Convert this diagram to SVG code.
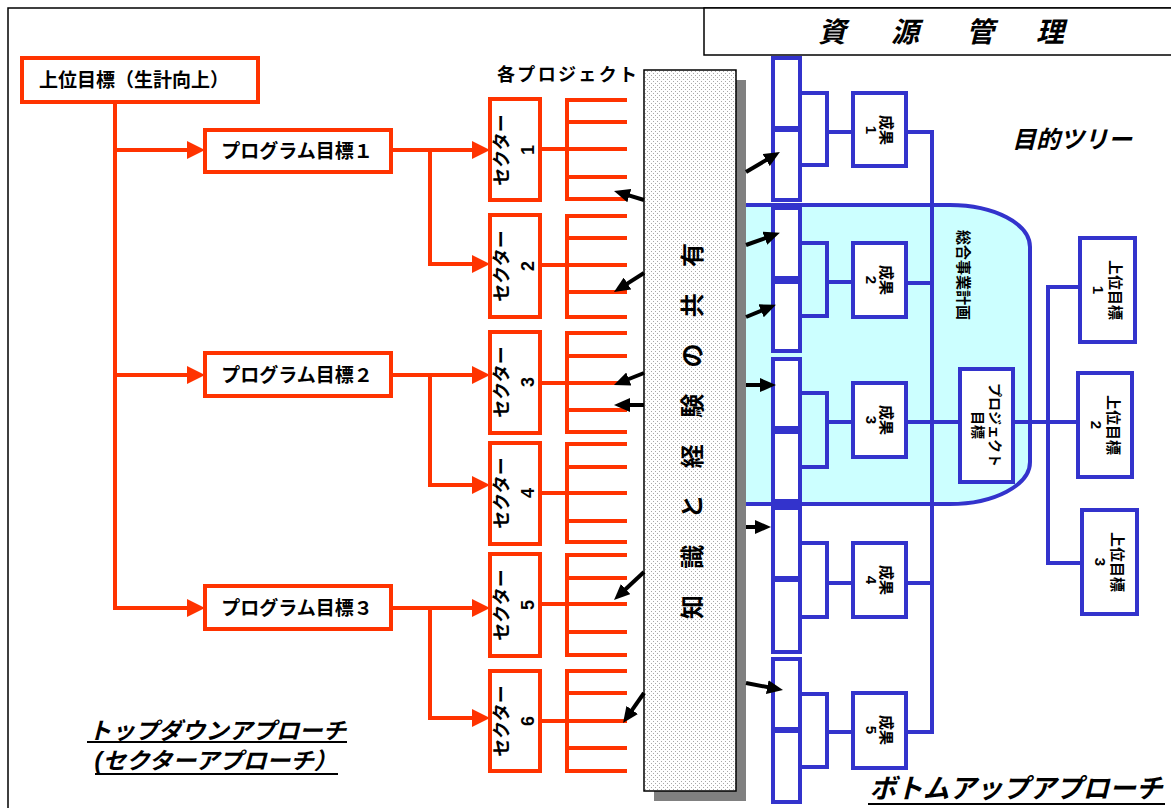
<svg xmlns="http://www.w3.org/2000/svg" width="1171" height="808" viewBox="0 0 1171 808">
<style>
text{font-family:"Liberation Sans","Noto Sans CJK JP",sans-serif;font-weight:bold;fill:#000;dominant-baseline:central;text-anchor:middle}
.ob{fill:#fff;stroke:#FF3300;stroke-width:4}
.ol{fill:none;stroke:#FF3300;stroke-width:4;stroke-linejoin:miter;stroke-linecap:square}
.oa{fill:none;stroke:#FF3300;stroke-width:4;marker-end:url(#oarr)}
.bb{fill:#fff;stroke:#3333CC;stroke-width:4}
.bl{fill:none;stroke:#3333CC;stroke-width:4;stroke-linecap:square}
.ka{fill:none;stroke:#000;stroke-width:4;marker-end:url(#karr)}
.it{font-style:italic}
</style>
<defs>
<marker id="oarr" viewBox="0 0 18 18" markerWidth="18" markerHeight="18" refX="0" refY="9" markerUnits="userSpaceOnUse" orient="auto"><path d="M0,0 L18,9 L0,18 Z" fill="#FF3300"/></marker>
<marker id="karr" viewBox="0 0 16 14" markerWidth="16" markerHeight="14" refX="4" refY="7" markerUnits="userSpaceOnUse" orient="auto"><path d="M0,0 L16,7 L0,14 Z" fill="#000"/></marker>
<pattern id="dots" patternUnits="userSpaceOnUse" width="4" height="4"><rect width="4" height="4" fill="#fff"/><rect x="1" y="1" width="1" height="1" fill="#a8a8a8"/><rect x="3" y="3" width="1" height="1" fill="#a8a8a8"/></pattern>
</defs>
<rect width="1171" height="808" fill="#fff"/>
<rect x="8" y="8" width="1200" height="900" fill="none" stroke="#000" stroke-width="1.5"/>
<g id="resource"><rect x="704" y="8" width="500" height="47" fill="#fff" stroke="#000" stroke-width="1.5"/>
<text class="it" font-size="28" x="832 905 980 1050" y="32">資源管理</text></g>

<g id="plan-area"><path d="M740,205 H950 A80,42 0 0 1 1030,247 V462 A80,42 0 0 1 950,504 H740 Z" fill="#CCFFFF" stroke="#3333CC" stroke-width="4"/>
<text font-size="15" transform="translate(963,275) rotate(90)">総合事業計画</text></g>

<g id="connectors">
<path class="ol" d="M115,102 V608"/>
<path class="oa" d="M115,150 H187"/>
<path class="oa" d="M115,375 H187"/>
<path class="oa" d="M115,608 H187"/>
<path class="ol" d="M390,150 H430 V264"/>
<path class="oa" d="M430,150 H472"/>
<path class="oa" d="M430,264 H472"/>
<path class="ol" d="M392,375 H430 V485"/>
<path class="oa" d="M430,375 H472"/>
<path class="oa" d="M430,485 H472"/>
<path class="ol" d="M392,608 H430 V718"/>
<path class="oa" d="M430,608 H472"/>
<path class="oa" d="M430,718 H472"/>
<path class="ol" d="M540,149 H625 M567,100 V199 M567,100 H625 M567,122 H625 M567,177 H625 M567,199 H625"/>
<path class="ol" d="M540,265 H625 M567,216 V317 M567,216 H625 M567,238 H625 M567,292 H625 M567,317 H625"/>
<path class="ol" d="M540,383 H625 M567,333 V432 M567,333 H625 M567,356 H625 M567,410 H625 M567,432 H625"/>
<path class="ol" d="M540,493 H625 M567,444 V542 M567,444 H625 M567,467 H625 M567,521 H625 M567,542 H625"/>
<path class="ol" d="M540,604 H625 M567,555 V655 M567,555 H625 M567,578 H625 M567,632 H625 M567,655 H625"/>
<path class="ol" d="M540,721 H625 M567,671 V771 M567,671 H625 M567,693 H625 M567,748 H625 M567,771 H625"/>
<path class="bl" d="M800,93 H827 V165 H800 M827,132 H853"/>
<path class="bl" d="M800,243 H827 V316 H800 M827,282 H853"/>
<path class="bl" d="M800,393 H827 V467 H800 M827,422 H853"/>
<path class="bl" d="M800,543 H827 V617 H800 M827,583 H853"/>
<path class="bl" d="M800,694 H827 V767 H800 M827,732 H853"/>
<path class="bl" d="M906,132 H932 V732 H906 M906,283 H932 M906,583 H932 M906,422 H960"/>
<path class="bl" d="M1013,422 H1078 M1048,287 V563 M1048,287 H1080 M1048,563 H1082"/>
</g>

<g id="top-goal"><rect class="ob" x="22" y="58" width="236" height="44"/><text font-size="19" x="134" y="80">上位目標（生計向上）</text></g>
<g id="program-1"><rect class="ob" x="205" y="130" width="186" height="42"/><text font-size="19" x="297" y="151">プログラム目標１</text></g>
<g id="program-2"><rect class="ob" x="205" y="353" width="186" height="43"/><text font-size="19" x="297" y="375">プログラム目標２</text></g>
<g id="program-3"><rect class="ob" x="205" y="586" width="186" height="43"/><text font-size="19" x="297" y="608">プログラム目標３</text></g>

<g id="sector-1"><rect class="ob" x="490" y="99" width="50" height="101"/><text font-size="18" transform="translate(515,150) rotate(-90)"><tspan x="0" y="-13">セクター</tspan><tspan x="0" y="13">1</tspan></text></g>
<g id="sector-2"><rect class="ob" x="490" y="215" width="50" height="102"/><text font-size="18" transform="translate(515,266) rotate(-90)"><tspan x="0" y="-13">セクター</tspan><tspan x="0" y="13">2</tspan></text></g>
<g id="sector-3"><rect class="ob" x="490" y="332" width="50" height="101"/><text font-size="18" transform="translate(515,382) rotate(-90)"><tspan x="0" y="-13">セクター</tspan><tspan x="0" y="13">3</tspan></text></g>
<g id="sector-4"><rect class="ob" x="490" y="443" width="50" height="101"/><text font-size="18" transform="translate(515,493) rotate(-90)"><tspan x="0" y="-13">セクター</tspan><tspan x="0" y="13">4</tspan></text></g>
<g id="sector-5"><rect class="ob" x="490" y="554" width="50" height="102"/><text font-size="18" transform="translate(515,605) rotate(-90)"><tspan x="0" y="-13">セクター</tspan><tspan x="0" y="13">5</tspan></text></g>
<g id="sector-6"><rect class="ob" x="490" y="671" width="50" height="100"/><text font-size="18" transform="translate(515,721) rotate(-90)"><tspan x="0" y="-13">セクター</tspan><tspan x="0" y="13">6</tspan></text></g>

<text font-size="18" x="567" y="75" textLength="140" lengthAdjust="spacing">各プロジェクト</text>

<g id="knowledge-bar"><rect x="654" y="80" width="92" height="721" fill="#808080"/>
<rect x="644" y="70" width="92" height="721" fill="url(#dots)" stroke="#000" stroke-width="1.5"/>
<text font-size="24" transform="translate(692,431) rotate(-90)" textLength="376" lengthAdjust="spacing">知 識 と 経 験 の 共 有</text></g>

<g id="activity-boxes">
<rect class="bb" x="773" y="58" width="27" height="70"/><rect class="bb" x="773" y="130" width="27" height="70"/>
<rect class="bb" x="773" y="208" width="27" height="70"/><rect class="bb" x="773" y="282" width="27" height="69"/>
<rect class="bb" x="773" y="359" width="27" height="69"/><rect class="bb" x="773" y="432" width="27" height="69"/>
<rect class="bb" x="773" y="508" width="27" height="70"/><rect class="bb" x="773" y="580" width="27" height="72"/>
<rect class="bb" x="773" y="659" width="27" height="70"/><rect class="bb" x="773" y="731" width="27" height="71"/>
</g>

<g id="arrows">
<path class="ka" d="M644,200 L625.5,194.4"/>
<path class="ka" d="M644,273 L624.1,285.6"/>
<path class="ka" d="M644,373 L625.1,380.5"/>
<path class="ka" d="M644,405 L626,405"/>
<path class="ka" d="M644,572 L622.8,591.8"/>
<path class="ka" d="M644,693 L629.9,713.2"/>
<path class="ka" d="M746,172 L769.6,158"/>
<path class="ka" d="M746,245 L768.6,236.9"/>
<path class="ka" d="M746,317 L764.8,309.3"/>
<path class="ka" d="M746,385 L764,385"/>
<path class="ka" d="M746,527 L759,527"/>
<path class="ka" d="M746,683 L771.2,687.8"/>
</g>

<g id="result-1"><rect class="bb" x="853" y="93" width="53" height="73"/><text font-size="15" transform="translate(879.5,130) rotate(90)"><tspan x="0" y="-7.5">成果</tspan><tspan x="0" y="7.5">1</tspan></text></g>
<g id="result-2"><rect class="bb" x="853" y="243" width="53" height="74"/><text font-size="15" transform="translate(879.5,280) rotate(90)"><tspan x="0" y="-7.5">成果</tspan><tspan x="0" y="7.5">2</tspan></text></g>
<g id="result-3"><rect class="bb" x="853" y="383" width="53" height="74"/><text font-size="15" transform="translate(879.5,420) rotate(90)"><tspan x="0" y="-7.5">成果</tspan><tspan x="0" y="7.5">3</tspan></text></g>
<g id="result-4"><rect class="bb" x="853" y="543" width="53" height="74"/><text font-size="15" transform="translate(879.5,580) rotate(90)"><tspan x="0" y="-7.5">成果</tspan><tspan x="0" y="7.5">4</tspan></text></g>
<g id="result-5"><rect class="bb" x="853" y="693" width="53" height="75"/><text font-size="15" transform="translate(879.5,730) rotate(90)"><tspan x="0" y="-7.5">成果</tspan><tspan x="0" y="7.5">5</tspan></text></g>

<g id="project-goal"><rect class="bb" x="960" y="369" width="53" height="113"/><text font-size="14" transform="translate(986.5,425) rotate(90)"><tspan x="0" y="-8.5">プロジェクト</tspan><tspan x="0" y="8.5">目標</tspan></text></g>

<g id="upper-goal-1"><rect class="bb" x="1080" y="238" width="55" height="104"/><text font-size="15" transform="translate(1107,290) rotate(90)"><tspan x="0" y="-8.5">上位目標</tspan><tspan x="0" y="8.5">1</tspan></text></g>
<g id="upper-goal-2"><rect class="bb" x="1078" y="373" width="54" height="104"/><text font-size="15" transform="translate(1105,425) rotate(90)"><tspan x="0" y="-8.5">上位目標</tspan><tspan x="0" y="8.5">2</tspan></text></g>
<g id="upper-goal-3"><rect class="bb" x="1082" y="510" width="55" height="104"/><text font-size="15" transform="translate(1109,562) rotate(90)"><tspan x="0" y="-8.5">上位目標</tspan><tspan x="0" y="8.5">3</tspan></text></g>

<text class="it" font-size="24" x="1072" y="139">目的ツリー</text>

<g id="labels">
<text class="it" font-size="23" x="217" y="731" textLength="258" lengthAdjust="spacingAndGlyphs">トップダウンアプローチ</text>
<line x1="87" y1="742" x2="347" y2="742" stroke="#000" stroke-width="2"/>
<text class="it" font-size="23" x="216" y="761" textLength="243" lengthAdjust="spacingAndGlyphs">(セクターアプローチ）</text>
<line x1="95" y1="774" x2="338" y2="774" stroke="#000" stroke-width="2"/>
<text class="it" font-size="27" x="1016" y="789" textLength="293" lengthAdjust="spacingAndGlyphs">ボトムアップアプローチ</text>
<line x1="868" y1="804" x2="1165" y2="804" stroke="#000" stroke-width="2"/>
</g>
</svg>
